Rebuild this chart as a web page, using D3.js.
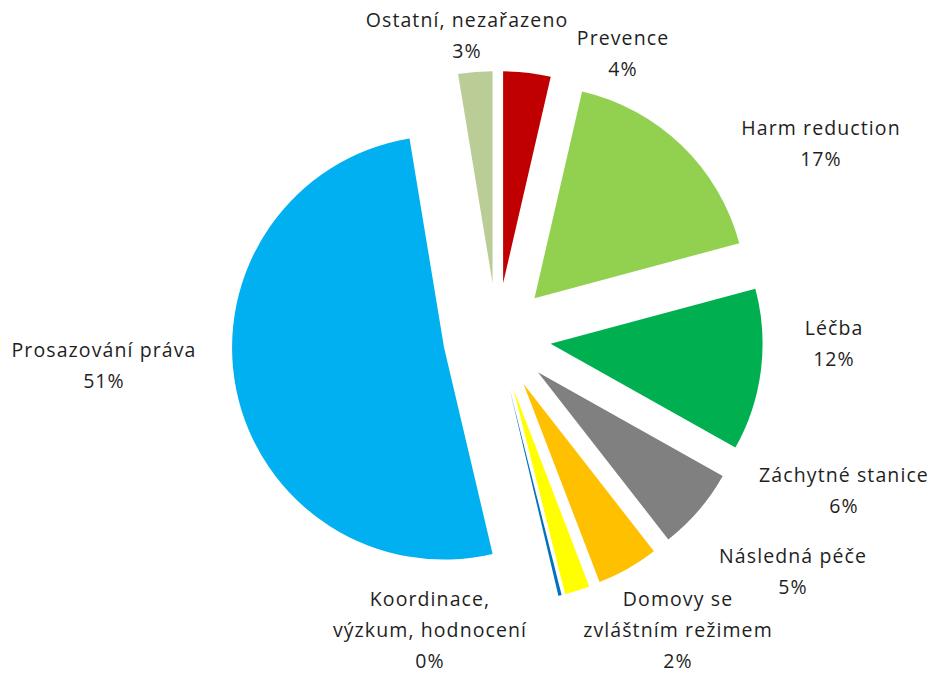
<!DOCTYPE html>
<html>
<head>
<meta charset="utf-8">
<script src="https://cdn.jsdelivr.net/npm/d3@7"></script>
<style>
  body { margin: 0; background: #fff; }
  svg { display: block; }
</style>
</head>
<body>
<div id="chart-area"></div>
<script>
// categories, clockwise from 12 o'clock
const categories = [
  'Prevence',
  'Harm reduction',
  'Léčba',
  'Záchytné stanice',
  'Následná péče',
  'Domovy se zvláštním režimem',
  'Koordinace, výzkum, hodnocení',
  'Prosazování práva',
  'Ostatní, nezařazeno',
];

// share of spending (%)
const values = [3.6, 17.2, 12.3, 6.3, 4.7, 1.9, 0.25, 51.0, 2.6];

// label lines as Excel wrapped them
const labelLines = [
  ['Prevence'],
  ['Harm reduction'],
  ['Léčba'],
  ['Záchytné stanice'],
  ['Následná péče'],
  ['Domovy se', 'zvláštním režimem'],
  ['Koordinace,', 'výzkum, hodnocení'],
  ['Prosazování práva'],
  ['Ostatní, nezařazeno'],
];

const colors = ['#C00000', '#92D050', '#00B050', '#808080', '#FFC000',
  '#FFFF00', '#0070C0', '#00B0F0', '#BACD96'];

// where the data labels sit (centre x, first baseline y)
const labelPos = [
  [623, 45], [821, 135], [834, 335], [844, 482], [793, 563],
  [678, 606], [430, 606], [104, 357], [467, 27],
];

const widthSvg = 931;
const heightSvg = 675;
const cx = 497;
const cy = 337;
const radius = 212;
const explode = 54;
const lineHeight = 31;

const svg = d3.select('#chart-area').append('svg')
  .attr('width', widthSvg)
  .attr('height', heightSvg);

const data = categories.map((c, i) => ({
  name: c, value: values[i], lines: labelLines[i], color: colors[i], pos: labelPos[i],
}));
const total = d3.sum(data, d => d.value);

const pie = d3.pie()
  .sort(null)
  .value(d => d.value);

const arc = d3.arc()
  .innerRadius(0)
  .outerRadius(radius);

const chart = svg.append('g')
  .attr('transform', `translate(${cx}, ${cy})`);

// exploded slices: each one pushed out along its bisector
chart.selectAll('path')
  .data(pie(data))
  .enter()
  .append('path')
    .attr('d', arc)
    .attr('fill', d => d.data.color)
    .attr('transform', d => {
      const mid = (d.startAngle + d.endAngle) / 2;
      return `translate(${explode * Math.sin(mid)}, ${-explode * Math.cos(mid)})`;
    });

const labels = svg.selectAll('text.label')
  .data(data)
  .enter()
  .append('text')
    .attr('class', 'label')
    .attr('text-anchor', 'middle')
    .attr('font-family', '"Open Sans", "Noto Sans", sans-serif')
    .attr('font-size', '19.5px')
    .attr('letter-spacing', '1.1px')
    .attr('fill', '#1f1f1f');

labels.each(function(d) {
  const lines = d.lines.concat([`${Math.round(d.value / total * 100)}%`]);
  d3.select(this).selectAll('tspan')
    .data(lines)
    .enter()
    .append('tspan')
      .attr('x', d.pos[0])
      .attr('y', (l, i) => d.pos[1] + i * lineHeight)
      .text(l => l);
});
</script>
</body>
</html>
